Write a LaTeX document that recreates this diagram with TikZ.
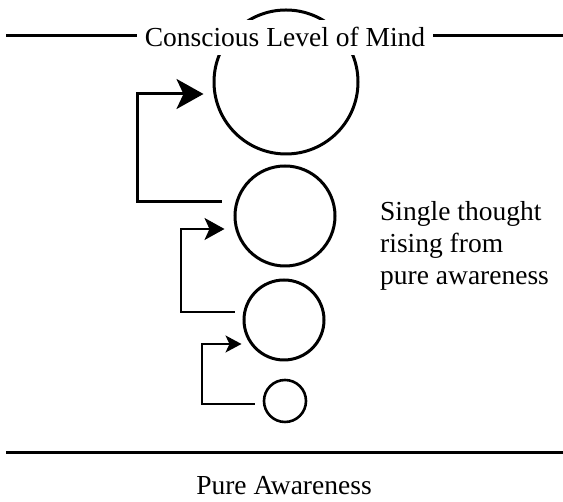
\documentclass[tikz,border=0pt]{standalone}
\usepackage{fontspec}
\setmainfont{Liberation Serif}
\usepackage{tikz}
\usetikzlibrary{calc}
\usetikzlibrary{arrows.meta}

\begin{document}
\begin{tikzpicture}[x=1pt, y=1pt,
  thought/.style={draw, circle, line width=3pt, inner sep=0pt},
  level/.style={line width=3pt},
  label text/.style={font=\fontsize{27.5}{32}\selectfont},
  arrA/.style={line width=3pt, -{Stealth[length=27pt,width=30pt,inset=7pt]}},
  arrB/.style={line width=2pt, -{Stealth[length=20pt,width=22pt,inset=5pt]}},
  arrC/.style={line width=1.6pt, -{Stealth[length=16pt,width=17pt,inset=4pt]}}]

\useasboundingbox (0,0) rectangle (563,502);

% the thoughts, small to large
\node[thought, minimum size=144pt] (t1) at (286, 420) {};
\node[thought, minimum size=100pt] (t2) at (285, 286) {};
\node[thought, minimum size=80pt] (t3) at (284, 182) {};
\node[thought, minimum size=42pt, line width=2.6pt] (t4) at (285, 101) {};

% levels of the mind
\draw[level] (6, 466) -- (563, 466);
\node[label text, fill=white, inner sep=8pt, anchor=base] (conscious) at (285, 455) {Conscious Level of Mind};
\draw[level] (6, 49) -- (563, 49);
\node[label text, anchor=base] (pure) at (284, 7) {Pure Awareness};

\node[label text, align=left, anchor=west, inner sep=0pt] (single) at (380, 256)
  {Single thought\\rising from\\pure awareness};

% rising
\draw[arrA] ([shift={(-12,14)}]t2.west) -- ++(-84,0) |- ([shift={(-9,-12)}]t1.west);
\draw[arrB] ([shift={(-8,8)}]t3.west) -- ++(-54,0) |- ([shift={(-9,-13)}]t2.west);
\draw[arrC] ([shift={(-8,-3)}]t4.west) -- ++(-53,0) |- ([shift={(-1,-24)}]t3.west);

\end{tikzpicture}
\end{document}
